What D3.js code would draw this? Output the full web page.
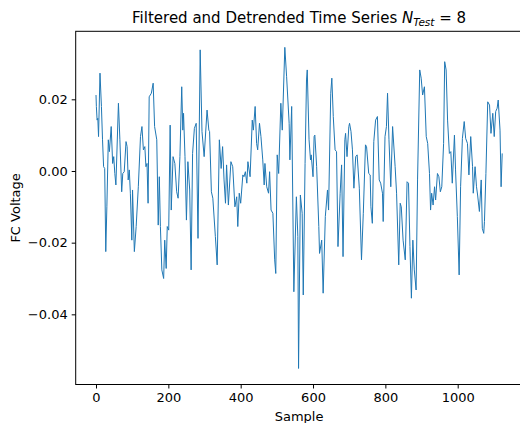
<!DOCTYPE html>
<html>
<head>
<meta charset="utf-8">
<script src="https://cdn.jsdelivr.net/npm/d3@7"></script>
<style>
  html, body { margin: 0; padding: 0; background: #fff; }
  svg { display: block; }
  text { font-family: "DejaVu Sans", sans-serif; fill: #000; }
</style>
</head>
<body>
<svg id="chart" width="520" height="423"></svg>
<script>
// ---- data ----
const sampleIdx = [0,1,3,5,7,11,15,18,21,24,27,30,34,37,42,46,49,52,55,62,66,71,74,78,83,86,89,92,95,99,101,106,111,117,123,127,131,135,138,141,144,147,153,158,162,168,172,175,178,182,187,190,194,197,201,205,208,213,218,223,227,232,237,240,242,246,250,254,259,263,267,272,277,282,288,293,299,307,312,314,319,323,330,335,341,346,350,354,358,
361,366,373,378,384,389,392,396,400,406,409,413,417,420,426,432,435,440,444,447,452,456,461,465,467,472,477,480,484,489,494,497,501,505,511,515,522,527,534,536,541,547,554,558,560,565,570,573,578,582,584,589,593,595,600,603,605,610,616,618,624,628,634,640,643,649,652,656,661,665,669,675,679,683,688,690,694,699,701,705,709,713,718,722,728,734,739,745,748,754,758,
760,764,768,773,778,783,787,792,794,799,803,806,810,815,820,827,831,837,841,844,849,855,860,864,868,872,876,880,885,889,895,899,903,908,913,917,922,925,928,932,936,939,944,948,952,956,961,964,968,972,977,981,985,991,994,999,1004,1008,1013,1018,1022,1027,1031,1036,1041,1043,1048,1052,1055,1060,1065,1068,1072,1074,1078,1083,1088,1092,1097,1101,1105,1109,1112,1117,1120,1123];
const voltage = [0.0212,0.0180,0.0142,0.0147,0.0096,0.0273,0.0180,0.0087,0.0012,0.0007,-0.0225,-0.0100,0.0087,0.0054,0.0124,0.0021,0.0040,-0.0007,-0.0039,0.0189,0.0087,-0.0058,-0.0007,-0.0002,0.0082,0.0068,-0.0025,0.0003,-0.0062,-0.0193,-0.0053,-0.0225,-0.0155,-0.0044,0.0096,0.0124,0.0059,0.0068,0.0012,0.0021,-0.0090,0.0207,0.0217,0.0245,0.0124,0.0087,-0.0151,-0.0016,-0.0155,-0.0276,-0.0300,-0.0193,-0.0272,-0.0155,-0.0165,0.0128,-0.0109,0.0040,0.0021,-0.0058,-0.0076,0.0040,0.0235,0.0114,0.0161,0.0040,-0.0137,0.0026,-0.0053,-0.0276,0.0049,0.0119,0.0133,-0.0188,0.0338,0.0110,0.0040,0.0170,0.0114,0.0110,-0.0058,-0.0076,-0.0183,-0.0262,0.0087,0.0007,0.0068,-0.0025,-0.0090,
0.0017,-0.0095,0.0026,0.0012,-0.0100,-0.0072,-0.0155,-0.0062,-0.0090,-0.0011,-0.0016,-0.0002,-0.0034,0.0026,-0.0016,0.0142,0.0114,0.0180,0.0077,0.0059,0.0133,0.0096,0.0031,-0.0039,0.0021,-0.0044,-0.0062,-0.0002,-0.0109,-0.0118,-0.0248,-0.0286,0.0045,-0.0007,0.0189,0.0114,0.0345,0.0263,0.0133,0.0031,0.0180,-0.0337,-0.0072,-0.0183,-0.0551,-0.0067,-0.0118,-0.0346,0.0021,0.0254,0.0282,0.0087,0.0031,0.0045,-0.0016,0.0096,0.0100,0.0012,-0.0155,-0.0230,-0.0193,-0.0341,-0.0127,-0.0053,-0.0109,0.0217,0.0259,0.0152,0.0059,0.0054,-0.0211,-0.0062,0.0017,-0.0239,0.0087,0.0105,0.0040,0.0124,0.0133,0.0110,0.0059,-0.0048,0.0040,0.0045,-0.0048,-0.0248,-0.0118,0.0073,0.0068,-0.0007,-0.0011,
-0.0100,-0.0146,0.0082,0.0142,0.0152,-0.0025,-0.0034,-0.0062,-0.0141,0.0096,0.0124,0.0217,0.0087,-0.0044,0.0124,0.0012,-0.0062,-0.0262,-0.0090,-0.0100,-0.0193,-0.0248,-0.0030,-0.0034,-0.0211,-0.0355,-0.0193,-0.0276,-0.0332,-0.0025,0.0282,0.0259,0.0212,0.0235,0.0096,0.0077,-0.0007,-0.0109,-0.0062,-0.0095,-0.0044,-0.0081,-0.0007,-0.0016,-0.0058,-0.0044,0.0077,0.0305,0.0282,0.0142,0.0049,0.0054,-0.0034,0.0100,0.0003,-0.0127,-0.0290,-0.0044,0.0091,0.0138,0.0091,0.0077,-0.0011,0.0096,0.0012,-0.0062,0.0012,-0.0044,-0.0067,-0.0113,-0.0025,-0.0160,-0.0174,-0.0141,-0.0007,0.0193,0.0184,0.0105,0.0161,0.0096,0.0166,0.0175,0.0198,0.0114,-0.0044,0.0049];
const xTicks = [0, 200, 400, 600, 800, 1000];
const yTicks = [0.02, 0.00, -0.02, -0.04];
const yTickLabels = ["0.02", "0.00", "\u22120.02", "\u22120.04"];
const titleText = "Filtered and Detrended Time Series ";
const xLabel = "Sample";
const yLabel = "FC Voltage";

// ---- layout ----
const svg = d3.select("#chart");
const mLeft = 75.7, mRight = 522.5, mTop = 31.3, mBottom = 384.5;

const xMin = d3.min(sampleIdx), xMax = d3.max(sampleIdx);
const xPad = (xMax - xMin) * 0.05;
const x = d3.scaleLinear().domain([xMin - xPad, xMax + xPad]).range([mLeft, mRight]);
const vMin = d3.min(voltage), vMax = d3.max(voltage);
const yPad = (vMax - vMin) * 0.05;
const y = d3.scaleLinear().domain([vMin - yPad, vMax + yPad]).range([mBottom, mTop]);

const n = Math.min(sampleIdx.length, voltage.length);
const pts = d3.range(n).map(i => [sampleIdx[i], voltage[i]]);

svg.append("path")
  .datum(pts)
  .attr("fill", "none")
  .attr("stroke", "#1f77b4")
  .attr("stroke-width", 1)
  .attr("stroke-linejoin", "round")
  .attr("d", d3.line().x(d => x(d[0])).y(d => y(d[1])));

// axes
const xAxis = d3.axisBottom(x).tickValues(xTicks).tickFormat(d3.format("d")).tickSizeInner(4).tickSizeOuter(0).tickPadding(4);
const gx = svg.append("g").attr("transform", `translate(0,${mBottom})`).call(xAxis);
const yAxis = d3.axisLeft(y).tickValues(yTicks).tickFormat((d, i) => yTickLabels[i]).tickSizeInner(4).tickSizeOuter(0).tickPadding(4);
const gy = svg.append("g").attr("transform", `translate(${mLeft},0)`).call(yAxis);
[gx, gy].forEach(g => {
  g.select(".domain").remove();
  g.selectAll(".tick line").attr("stroke", "#000").attr("stroke-width", 1);
  g.selectAll(".tick text").style("font-family", "DejaVu Sans").style("font-size", "13px").attr("fill", "#000");
});

// frame (spines)
svg.append("rect")
  .attr("x", mLeft).attr("y", mTop)
  .attr("width", mRight - mLeft).attr("height", mBottom - mTop)
  .attr("fill", "none").attr("stroke", "#000").attr("stroke-width", 1);

// labels
svg.append("text")
  .attr("x", (mLeft + mRight) / 2).attr("y", 421)
  .attr("text-anchor", "middle").style("font-size", "13px")
  .text(xLabel);
svg.append("text")
  .attr("transform", `translate(20,${(mTop + mBottom) / 2}) rotate(-90)`)
  .attr("text-anchor", "middle").style("font-size", "13px")
  .text(yLabel);

const t = svg.append("text")
  .attr("x", (mLeft + mRight) / 2).attr("y", 23)
  .attr("text-anchor", "middle").style("font-size", "15px");
t.append("tspan").text(titleText);
t.append("tspan").style("font-style", "italic").text("N");
t.append("tspan").style("font-style", "italic").style("font-size", "10.5px").attr("dy", 3).text("Test");
t.append("tspan").attr("dy", -3).text(" = 8");
</script>
</body>
</html>
